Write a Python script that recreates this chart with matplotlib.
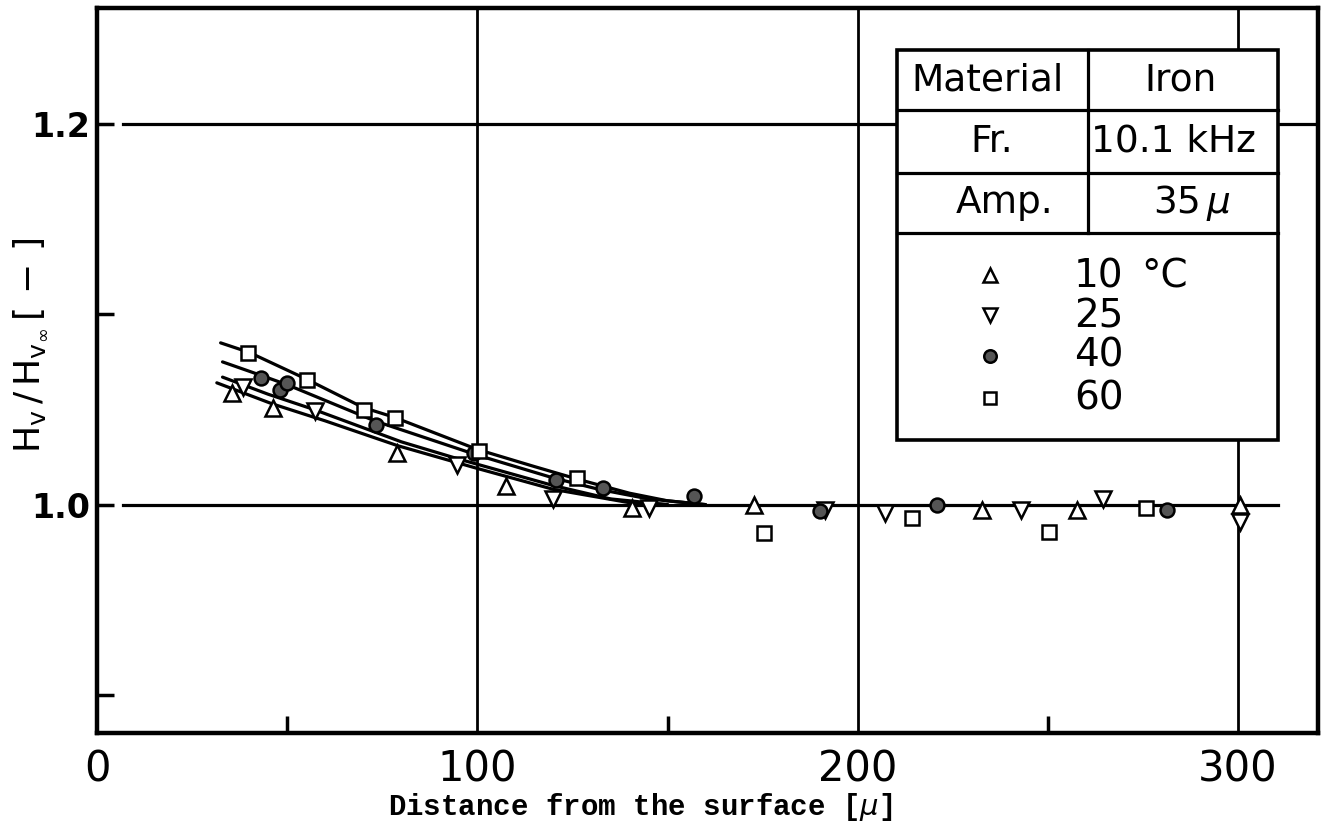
import matplotlib
matplotlib.use("Agg")
import matplotlib.pyplot as plt
from matplotlib import font_manager as fm
from matplotlib.patches import Rectangle

# ---------------- data ----------------
t10_x = [35.4, 46.4, 78.8, 107.5, 140.6, 172.6, 232.6, 257.6, 300.5]
t10_y = [1.0586, 1.0508, 1.027, 1.010, 0.998, 1.000, 0.997, 0.997, 1.000]

t25_x = [38.5, 57.3, 94.7, 119.8, 145.0, 191.4, 207.2, 242.9, 264.6, 300.5]
t25_y = [1.062, 1.049, 1.021, 1.003, 0.998, 0.997, 0.9956, 0.997, 1.003, 0.991]

t40_x = [43.0, 48.1, 50.0, 73.4, 99.0, 120.7, 133.1, 157.0, 190.1, 220.8, 281.3]
t40_y = [1.0665, 1.060, 1.0639, 1.042, 1.027, 1.013, 1.0088, 1.0047, 0.9965, 1.000, 0.997]

t60_x = [39.6, 55.3, 70.2, 78.4, 100.3, 126.1, 175.4, 214.2, 250.4, 275.7]
t60_y = [1.0796, 1.0653, 1.0499, 1.0455, 1.028, 1.014, 0.985, 0.993, 0.9855, 0.998]

# fitted curves
c60_x = [32.5, 40, 55, 70, 78, 100, 115, 127, 140, 150, 160]
c60_y = [1.085, 1.080, 1.066, 1.051, 1.046, 1.029, 1.020, 1.013, 1.006, 1.002, 1.000]
c40_x = [33, 43, 50, 73, 100, 120, 132, 145, 160]
c40_y = [1.075, 1.068, 1.063, 1.044, 1.026, 1.014, 1.008, 1.003, 1.000]
c25_x = [33, 45, 57, 80, 95, 120, 135, 150]
c25_y = [1.067, 1.058, 1.050, 1.033, 1.024, 1.010, 1.003, 1.000]
c10_x = [31.5, 46, 60, 79, 100, 120, 140, 150]
c10_y = [1.064, 1.053, 1.044, 1.031, 1.019, 1.008, 1.001, 1.000]

x_major = [0, 100, 200, 300]
x_minor = [50, 150, 250]
y_major = [1.0, 1.2]
y_minor = [0.9, 1.1]
x_ticklabels = ["0", "100", "200", "300"]
y_ticklabels = ["1.0", "1.2"]

legend_labels = ["10", "25", "40", "60"]
table_rows = [("Material", "Iron"), ("Fr.", "10.1 kHz"), ("Amp.", r"35$\,\mu$")]

# ---------------- fonts ----------------
def has_font(name):
    try:
        fm.findfont(fm.FontProperties(family=name), fallback_to_default=False)
        return True
    except Exception:
        return False

cond = None
for cand in ["Liberation Sans Narrow", "DejaVu Sans Condensed"]:
    if has_font(cand):
        cond = cand
        break
if cond is None:
    cond = "DejaVu Sans"
    tick_size_x, tick_size_y = 30, 24
else:
    tick_size_x, tick_size_y = 34, 28

mono = "Liberation Mono" if has_font("Liberation Mono") else "DejaVu Sans Mono"

plt.rcParams["font.family"] = ["DejaVu Sans"]
plt.rcParams["mathtext.fontset"] = "dejavusans"

# ---------------- figure ----------------
fig = plt.figure(figsize=(13.27, 8.27), dpi=100)
ax = fig.add_axes([0.0731, 0.1137, 0.9201, 0.8767])
ax.set_xlim(0, 321)
ax.set_ylim(0.880, 1.261)

for s in ax.spines.values():
    s.set_linewidth(3.2)
    s.set_color("black")

ax.set_xticks(x_major)
ax.set_xticklabels(x_ticklabels, fontfamily=cond, fontsize=tick_size_x)
ax.set_xticks(x_minor, minor=True)
ax.set_yticks(y_major)
ax.set_yticklabels(y_ticklabels, fontfamily=cond, fontsize=tick_size_y, fontweight="bold")
ax.set_yticks(y_minor, minor=True)
ax.tick_params(axis="both", which="both", direction="in", width=2.5, color="black")
ax.tick_params(axis="y", which="both", length=12, pad=5)
ax.tick_params(axis="x", which="major", length=0, pad=11)
ax.tick_params(axis="x", which="minor", length=12)

# grid lines
for yv in y_major:
    ax.axhline(yv, xmin=0.021, xmax=(310.6 if yv == 1.0 else 321) / 321,
               color="black", lw=2.3, zorder=1)
for xv in x_major[1:]:
    ax.axvline(xv, color="black", lw=2.0, zorder=1)

# curves
for cx, cy in [(c60_x, c60_y), (c40_x, c40_y), (c25_x, c25_y), (c10_x, c10_y)]:
    ax.plot(cx, cy, color="black", lw=2.3, zorder=2, solid_capstyle="round")

mk = dict(linestyle="none", markeredgecolor="black", markeredgewidth=1.8, zorder=4)
ax.plot(t10_x, t10_y, marker="^", markersize=12, markerfacecolor="white", **mk)
ax.plot(t25_x, t25_y, marker="v", markersize=12, markerfacecolor="white", **mk)
ax.plot(t40_x, t40_y, marker="o", markersize=10, markerfacecolor="#555555", **mk)
ax.plot(t60_x, t60_y, marker="s", markersize=9.5, markerfacecolor="white", **mk)

# ---------------- table / legend box ----------------
L, R, C = 0.655, 0.967, 0.812
T, B = 0.942, 0.404
rows = [0.859, 0.772, 0.690]
tr = ax.transAxes
ax.add_patch(Rectangle((L, B), R - L, T - B, transform=tr, facecolor="white",
                       edgecolor="black", lw=2.6, zorder=6))
for r in rows:
    ax.plot([L, R], [r, r], transform=tr, color="black", lw=2.3, zorder=7)
ax.plot([C, C], [rows[-1], T], transform=tr, color="black", lw=2.3, zorder=7)

row_tops = [T] + rows[:-1]
left_cx = [0.729, 0.733, 0.743]
right_cx = [0.887, 0.882, 0.897]
for (lt, rt), top, bot, lx, rx in zip(table_rows, row_tops, rows, left_cx, right_cx):
    yc = (top + bot) / 2
    ax.text(lx, yc, lt, transform=tr, ha="center", va="center", fontsize=27, zorder=8)
    ax.text(rx, yc, rt, transform=tr, ha="center", va="center", fontsize=27, zorder=8)

leg_marker_y = [0.631, 0.576, 0.520, 0.462]
leg_text_y = [0.629, 0.574, 0.521, 0.462]
leg_styles = [dict(marker="^", markersize=10, markerfacecolor="white"),
              dict(marker="v", markersize=10, markerfacecolor="white"),
              dict(marker="o", markersize=9, markerfacecolor="#555555"),
              dict(marker="s", markersize=8.5, markerfacecolor="white")]
for lab, my, ty, st in zip(legend_labels, leg_marker_y, leg_text_y, leg_styles):
    ax.plot([0.7314], [my], transform=tr, linestyle="none", markeredgecolor="black",
            markeredgewidth=1.8, zorder=8, clip_on=False, **st)
    ax.text(0.800, ty, lab, transform=tr, ha="left", va="center", fontsize=28, zorder=8)
ax.text(0.855, leg_text_y[0], "°C", transform=tr, ha="left", va="center", fontsize=28, zorder=8)

# ---------------- axis labels ----------------
ax.set_xlabel(r"Distance from the surface [$\mu$]", fontfamily=mono, fontsize=21,
              fontweight="bold")
ax.xaxis.set_label_coords(0.445, -0.080)
fig.text(30 / 1327, 1 - 345 / 827, r"$\mathrm{H_v}\,/\,\mathrm{H_{v_\infty}}\,[\,-\,]$",
         rotation=90, ha="center", va="center", fontsize=26)

fig.savefig("out.png", dpi=100, facecolor="white")
